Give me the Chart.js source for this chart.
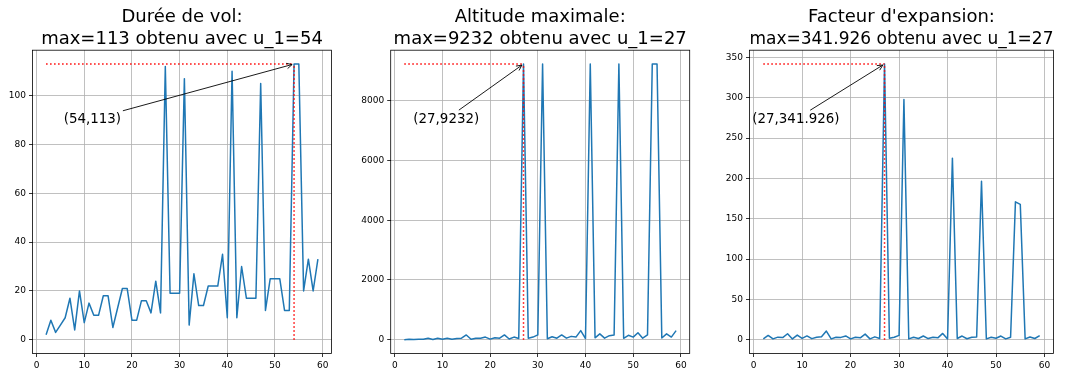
<!DOCTYPE html>
<html>
<head>
<meta charset="utf-8">
<script src="https://cdn.jsdelivr.net/npm/chart.js@4.4.1/dist/chart.umd.min.js"></script>
<style>
  body { margin: 0; background: #fff; }
  #wrap { position: relative; width: 1067px; height: 372px; }
  canvas { position: absolute; top: 0; }
</style>
</head>
<body>
<div id="wrap">
  <canvas id="vol" width="345" height="372" style="left:0px"></canvas>
  <canvas id="alt" width="360" height="372" style="left:345px"></canvas>
  <canvas id="exp" width="362" height="372" style="left:705px"></canvas>
</div>
<script>
// Syracuse: u_1 de 2 à 59
const u1 = [2,3,4,5,6,7,8,9,10,11,12,13,14,15,16,17,18,19,20,21,22,23,24,25,26,27,28,29,30,
  31,32,33,34,35,36,37,38,39,40,41,42,43,44,45,46,47,48,49,50,51,52,53,54,55,56,57,58,59];

const dureeVol = [2,8,3,6,9,17,4,20,7,15,10,10,18,18,5,13,21,21,8,8,16,16,11,24,11,112,19,19,19,
  107,6,27,14,14,22,22,22,35,9,110,9,30,17,17,17,105,12,25,25,25,12,12,113,113,20,33,20,33];

const altitudeMax = [2,16,4,16,16,52,8,52,16,52,16,40,52,160,16,52,52,88,20,64,52,160,24,88,40,
  9232,52,88,160,9232,32,100,52,160,52,112,88,304,40,9232,64,196,52,136,160,9232,48,148,88,232,
  52,160,9232,9232,56,196,88,304];

const facteurExp = [1,5.333,1,3.2,2.667,7.429,1,5.778,1.6,4.727,1.333,3.077,3.714,10.667,1,3.059,
  2.889,4.632,1,3.048,2.364,6.957,1,3.52,1.538,341.926,1.857,3.034,5.333,297.806,1,3.03,1.529,
  4.571,1.444,3.027,2.316,7.795,1,225.171,1.524,4.558,1.182,3.022,3.478,196.426,1,3.02,1.76,
  4.549,1,3.019,170.963,167.855,1,3.439,1.517,5.153];

const xTicks = [0,10,20,30,40,50,60];
const volTicks = [0,20,40,60,80,100];
const altTicks = [0,2000,4000,6000,8000];
const expTicks = [0,50,100,150,200,250,300,350];

// position du texte de l'annotation (en x) et hauteur relative au max
const noteX = 17.7;
const noteFrac = 0.8;

Chart.defaults.font.family = "'DejaVu Sans', sans-serif";

// cadre complet + flèche d'annotation vers le maximum
const cadreNote = {
  id: 'cadreNote',
  afterDatasetsDraw(chart) {
    const { ctx, chartArea: a, scales: { x, y } } = chart;
    const note = chart.options.plugins.cadreNote;
    ctx.save();
    ctx.strokeStyle = '#000';
    ctx.lineWidth = 0.8;
    ctx.strokeRect(a.left, a.top, a.right - a.left, a.bottom - a.top);

    const fs = 13.4;
    ctx.font = fs + "px 'DejaVu Sans'";
    ctx.fillStyle = '#000';
    ctx.textAlign = 'right';
    ctx.textBaseline = 'middle';
    const px = x.getPixelForValue(noteX);
    const py = y.getPixelForValue(note.ymax * noteFrac);
    ctx.fillText(note.label, px, py);

    const tw = ctx.measureText(note.label).width;
    const th = fs * 1.17;
    const cx = px - tw / 2, cy = py;
    const tx = x.getPixelForValue(note.xmax), ty = y.getPixelForValue(note.ymax);
    const dx = tx - cx, dy = ty - cy;
    const len = Math.hypot(dx, dy);
    const ux = dx / len, uy = dy / len;
    const t = Math.min((tw / 2) / Math.abs(dx), (th / 2) / Math.abs(dy));
    const sx = cx + dx * t + ux * 2, sy = cy + dy * t + uy * 2;
    const ex = tx - ux * 2, ey = ty - uy * 2;

    ctx.strokeStyle = '#000';
    ctx.lineWidth = 0.9;
    ctx.beginPath();
    ctx.moveTo(sx, sy);
    ctx.lineTo(ex, ey);
    const hl = 5.4, hw = 2.7;
    ctx.moveTo(ex - ux * hl - uy * hw, ey - uy * hl + ux * hw);
    ctx.lineTo(ex, ey);
    ctx.lineTo(ex - ux * hl + uy * hw, ey - uy * hl - ux * hw);
    ctx.stroke();
    ctx.restore();
  }
};

function tracer(id, nom, valeurs, yTicks, yW, padR) {
  const ymax = Math.max(...valeurs);
  const xmax = u1[valeurs.indexOf(ymax)];
  const xlo = Math.min(...u1), xhi = Math.max(...u1);
  const ylo = 0, yhi = ymax;
  const mx = (xhi - xlo) * 0.05, my = (yhi - ylo) * 0.05;

  const axe = {
    grid: { color: '#b0b0b0', lineWidth: 0.8, tickLength: 3.5, tickColor: '#000', tickWidth: 0.8 },
    border: { display: false },
    ticks: { color: '#000', font: { size: 9 }, padding: 3, autoSkip: false, maxRotation: 0,
      callback: v => String(v) }
  };

  new Chart(document.getElementById(id), {
    type: 'line',
    data: {
      datasets: [
        { data: [{ x: xlo, y: ymax }, { x: xmax, y: ymax }], borderColor: 'red', borderWidth: 1.5,
          borderDash: [1.5, 2.5], pointRadius: 0, order: 1 },
        { data: [{ x: xmax, y: 0 }, { x: xmax, y: ymax }], borderColor: 'red', borderWidth: 1.5,
          borderDash: [1.5, 2.5], pointRadius: 0, order: 1 },
        { data: u1.map((u, i) => ({ x: u, y: valeurs[i] })), borderColor: '#1f77b4', borderWidth: 1.5,
          borderJoinStyle: 'round', pointRadius: 0, tension: 0, order: 2 }
      ]
    },
    options: {
      responsive: false,
      animation: false,
      layout: { padding: { left: 0, right: padR, top: 0, bottom: 0 } },
      scales: {
        x: { ...axe, type: 'linear', min: xlo - mx, max: xhi + mx,
          afterBuildTicks: ax => { ax.ticks = xTicks.map(v => ({ value: v })); },
          afterFit: ax => { ax.height = 18.5; } },
        y: { ...axe, type: 'linear', min: ylo - my, max: yhi + my,
          afterBuildTicks: ax => { ax.ticks = yTicks.map(v => ({ value: v })); },
          afterFit: ax => { ax.width = yW; } }
      },
      plugins: {
        legend: { display: false },
        tooltip: { enabled: false },
        title: {
          display: true,
          fullSize: false,
          text: [nom + ':', 'max=' + ymax + ' obtenu avec u_1=' + xmax],
          color: '#000',
          font: { size: 18, weight: 'normal', lineHeight: 1.2 },
          padding: { top: 7, bottom: 0 }
        },
        cadreNote: { label: '(' + xmax + ',' + ymax + ')', xmax: xmax, ymax: ymax }
      }
    },
    plugins: [cadreNote]
  });
}

tracer('vol', 'Durée de vol', dureeVol, volTicks, 32.5, 13.5);
tracer('alt', "Altitude maximale", altitudeMax, altTicks, 45.7, 15.3);
tracer('exp', "Facteur d'expansion", facteurExp, expTicks, 44.5, 13.5);
</script>
</body>
</html>
